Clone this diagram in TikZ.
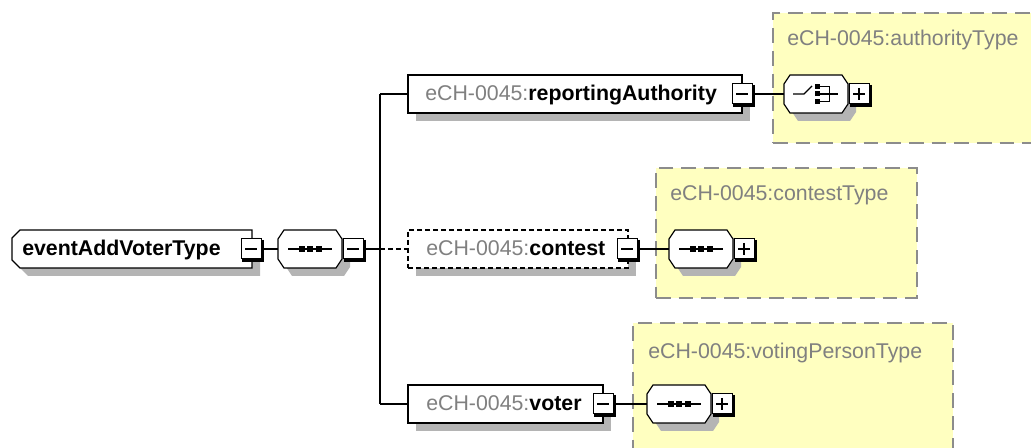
\documentclass[tikz,border=0pt]{standalone}
\usepackage{fontspec}
\setmainfont{Liberation Sans}
\usetikzlibrary{calc,shadows}
\definecolor{pref}{HTML}{808080}
\definecolor{tyell}{HTML}{FFFFC0}
\definecolor{tdash}{HTML}{8C8C8C}
\definecolor{shad}{HTML}{B4B4B4}
\newcommand\btnedge[1]{\draw[line width=2.4pt] ($(#1.north east)+(1.5,1)$) -- ($(#1.south east)+(1.5,1.5)$) -- ($(#1.south west)+(1,1.5)$);}
\newcommand\minussign[1]{\draw[line width=1.1pt] ($(#1.center)+(-6,0)$) -- ($(#1.center)+(6,0)$);}
\newcommand\plussign[1]{\minussign{#1}\draw[line width=1.1pt] ($(#1.center)+(0,-6)$) -- ($(#1.center)+(0,6)$);}
\newcommand\octo[1]{\draw[outl] ($(#1.north west)+(6,0)$) -- ($(#1.north east)+(-6,0)$) -- ($(#1.north east)+(0,9)$) -- ($(#1.south east)+(0,-9)$) -- ($(#1.south east)+(-6,0)$) -- ($(#1.south west)+(6,0)$) -- ($(#1.south west)+(0,-9)$) -- ($(#1.north west)+(0,9)$) -- cycle;}
\newcommand\seqicon[1]{\draw[line width=1pt] ($(#1.center)+(-22,0)$) -- ($(#1.center)+(22,0)$);
  \foreach \d in {-8.5,0,8.5} \fill ($(#1.center)+(\d-3,-3)$) rectangle ++(6,6);}
\newcommand\choiceicon[1]{\draw[line width=1pt] ($(#1.center)+(-23,0)$) -- ($(#1.center)+(-12,0)$) -- ($(#1.center)+(-4,-8)$);
  \foreach \d in {-7.5,0,7.5} \fill ($(#1.center)+(-1.5,\d-2.5)$) rectangle ++(5,5);}
\begin{document}
\begin{tikzpicture}[x=0.75pt,y=-0.75pt,
  font=\fontsize{16}{19}\selectfont,
  sz/.style 2 args={minimum width=#1*0.75pt, minimum height=#2*0.75pt},
  hid/.style={inner sep=0pt, outer sep=0pt, draw=none},
  elem/.style={draw=black, line width=0.9pt, fill=white, inner sep=0pt, outer sep=0pt,
    drop shadow={shadow xshift=6pt, shadow yshift=-6pt, fill=shad, opacity=1}},
  optdash/.style={dash pattern=on 3.75pt off 2.25pt},
  outl/.style={draw=black, line width=0.9pt, fill=white,
    preaction={fill=shad, transform canvas={xshift=6pt, yshift=-6pt}}},
  btn/.style={draw=black, line width=0.75pt, fill=white, inner sep=0pt, outer sep=0pt, minimum size=15pt},
  conn/.style={draw=black, line width=0.9pt},
  tbox/.style={draw=tdash, fill=tyell, line width=1.1pt, dash pattern=on 11pt off 6pt, inner sep=0pt, outer sep=0pt},
  tlabel/.style={text=pref, inner sep=0pt, anchor=base west},
  etext/.style={inner sep=0pt, anchor=base west}
]
\useasboundingbox (0,0) rectangle (1031,448);
\clip (0,0) rectangle (1031,448);
% type containers
\node[tbox, sz={290}{130}, anchor=north west] (atype) at (773,13) {};
\node[tbox, sz={261}{130}, anchor=north west] (ctype) at (656,168) {};
\node[tbox, sz={320}{150}, anchor=north west] (vtype) at (633,323) {};
\node[tlabel] (atl) at (787,46) {eCH-0045:authorityType};
\node[tlabel] (ctl) at (670,200.5) {eCH-0045:contestType};
\node[tlabel] (vtl) at (648,359) {eCH-0045:votingPersonType};
% root
\node[hid, sz={240}{38}] (root) at (132,249) {};
\draw[outl] ($(root.north west)+(8,0)$) -- (root.north east) -- (root.south east) -- ($(root.south west)+(8,0)$) -- ($(root.south west)+(0,-8)$) -- ($(root.north west)+(0,8)$) -- cycle;
\node[etext] (roott) at (22,256) {\textbf{eventAddVoterType}};
\node[btn] (rootm) at (251,249) {}; \btnedge{rootm}\minussign{rootm}
% main sequence
\node[hid, sz={64}{38}] (seq) at (310,249) {}; \octo{seq}\seqicon{seq}
\node[btn] (seqm) at (353,249) {}; \btnedge{seqm}\minussign{seqm}
% reportingAuthority
\node[elem, sz={334}{38}] (ra) at (575,94) {};
\node[etext] (rat) at (425,100.5) {\textcolor{pref}{eCH-0045:}\textbf{reportingAuthority}};
\node[btn] (ram) at (742,94) {}; \btnedge{ram}\minussign{ram}
\node[hid, sz={64}{38}] (ch) at (816,94) {}; \octo{ch}\choiceicon{ch}
\draw[line width=1pt] ($(ch.center)+(3.5,-7.5)$) -- ($(ch.center)+(13.5,-7.5)$) -- ($(ch.center)+(13.5,7.5)$) -- ($(ch.center)+(3.5,7.5)$);
\draw[line width=1pt] ($(ch.center)+(3.5,0)$) -- ($(ch.center)+(21.5,0)$);
\node[btn] (chp) at (859,94) {}; \btnedge{chp}\plussign{chp}
% contest
\node[elem, optdash, sz={220}{38}] (ct) at (518,249) {};
\node[etext] (ctt) at (426,255.5) {\textcolor{pref}{eCH-0045:}\textbf{contest}};
\node[btn] (ctm) at (627,249) {}; \btnedge{ctm}\minussign{ctm}
\node[hid, sz={64}{38}] (cs) at (701,249) {}; \octo{cs}\seqicon{cs}
\node[btn] (csp) at (744,249) {}; \btnedge{csp}\plussign{csp}
% voter
\node[elem, sz={195}{38}] (vo) at (505.5,404) {};
\node[etext] (vot) at (426,410.5) {\textcolor{pref}{eCH-0045:}\textbf{voter}};
\node[btn] (vom) at (603,404) {}; \btnedge{vom}\minussign{vom}
\node[hid, sz={64}{38}] (vs) at (679,404) {}; \octo{vs}\seqicon{vs}
\node[btn] (vsp) at (722,404) {}; \btnedge{vsp}\plussign{vsp}
% connectors
\coordinate (bus) at (380,249);
\coordinate (busT) at (380,94);
\coordinate (busB) at (380,404);
\draw[conn] (rootm.east) -- (seq.west);
\draw[conn] (seqm.east) -- (bus);
\draw[conn] (busT) -- (busB);
\draw[conn] (busT) -- (ra.west);
\draw[conn, optdash] (bus) -- (ct.west);
\draw[conn] (busB) -- (vo.west);
\draw[conn] (ram.east) -- (ch.west);
\draw[conn] (ctm.east) -- (cs.west);
\draw[conn] (vom.east) -- (vs.west);
\end{tikzpicture}
\end{document}
